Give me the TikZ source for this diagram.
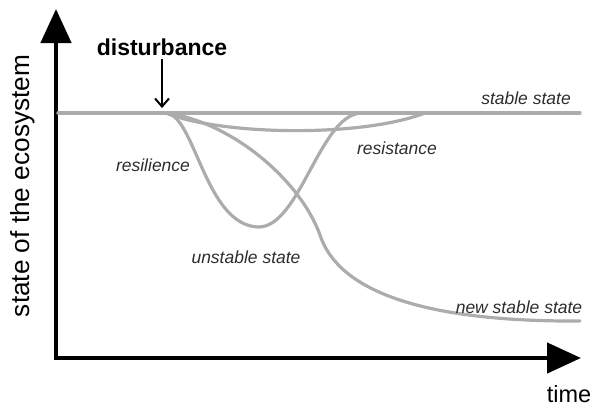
\documentclass[tikz,border=0pt]{standalone}
\usepackage{fontspec}
\setmainfont{Liberation Sans}
\usetikzlibrary{arrows.meta}
\definecolor{curve}{RGB}{172,172,172}
\definecolor{lab}{RGB}{45,45,45}
\tikzset{
  axis/.style={line width=4.5pt, black, -{Triangle[length=34pt,width=30pt]}},
  curv/.style={line width=3.2pt, curve, line cap=round},
  lbl/.style={font=\itshape\fontsize{17.5}{19}\selectfont, text=lab, inner sep=0pt},
}
\begin{document}
\begin{tikzpicture}[x=1pt,y=-1pt]
\useasboundingbox (0,0) rectangle (596,407);
\coordinate (ybase) at (56,360);
\coordinate (ytip) at (56,9);
\coordinate (xtip) at (581,358);
\coordinate (xstart) at (54,358);
\draw[axis] (ybase) -- (ytip);
\draw[axis] (xstart) -- (xtip);
% stable line
\coordinate (s0) at (58,113);
\coordinate (s1) at (580,113);
\coordinate (d) at (166,113);
\draw[curv] (s0) -- (s1);
% resistance
\draw[curv] (d) .. controls (220,135) and (360,138) .. (425,113);
% resilience
\draw[curv] (d) .. controls (195,115) and (205,225) .. (258,227) .. controls (300,228) and (320,113) .. (362,113);
% new stable state
\draw[curv] (d) .. controls (232,122) and (300,180) .. (320,235) .. controls (338,290) and (420,322) .. (580,321);
% labels
\node[font=\bfseries\fontsize{23}{25}\selectfont, inner sep=0pt] (dist) at (162,47) {disturbance};
\coordinate (dtop) at (162,59);
\coordinate (darr) at (162,108);
\draw[line width=2pt, -{Straight Barb[length=8pt,width=14pt]}] (dtop) -- (darr);
\node[lbl] (st) at (526,98) {stable state};
\node[lbl] (rs) at (397,148) {resistance};
\node[lbl] (rl) at (153,165) {resilience};
\node[lbl] (us) at (246,257) {unstable state};
\node[lbl] (ns) at (519,307) {new stable state};
\node[font=\fontsize{23.5}{25}\selectfont, inner sep=0pt, anchor=base] (tm) at (569,402) {time};
\node[font=\fontsize{26.2}{28}\selectfont, inner sep=0pt, rotate=90] (ya) at (23,186) {state of the ecosystem};
\end{tikzpicture}
\end{document}
